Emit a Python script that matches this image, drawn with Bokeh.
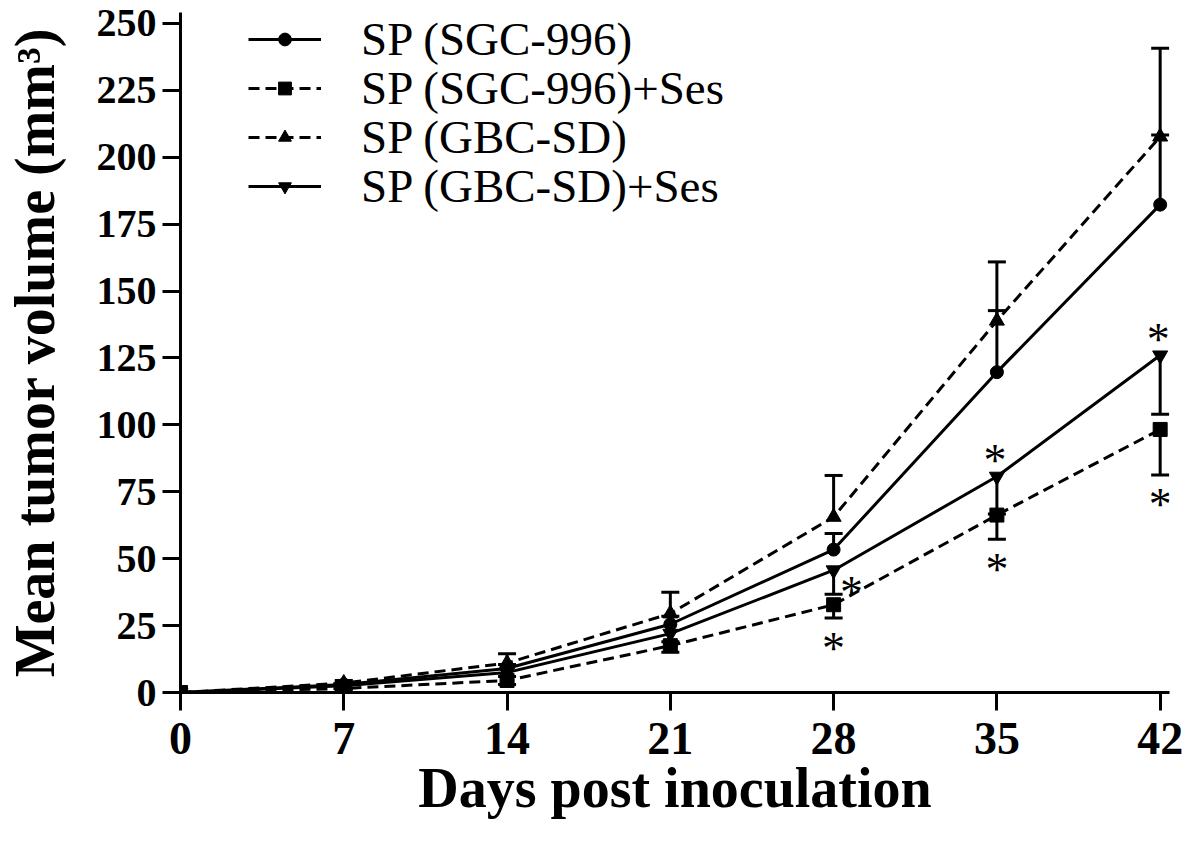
from bokeh.plotting import figure
from bokeh.models import Range1d, Legend, LegendItem, ColumnDataSource, Whisker, TeeHead, FixedTicker
from bokeh.core.properties import value
from bokeh.embed import file_html
from bokeh.resources import INLINE

# ---- data ----
days = [0, 7, 14, 21, 28, 35, 42]

sgc996 = [0, 3.0, 9.0, 25.5, 53.4, 119.7, 182.3]
sgc996_err_up = [0, 0.8, 1.5, 3.0, 6.0, 23.0, 26.0]

sgc996_ses = [0, 1.5, 4.5, 17.5, 32.8, 66.3, 98.3]
sgc996_ses_err_dn = [0, 0.8, 1.5, 2.5, 5.0, 9.0, 17.0]

gbcsd = [0, 3.5, 11.0, 29.5, 65.6, 138.9, 207.7]
gbcsd_err_up = [0, 1.0, 3.5, 8.0, 15.5, 22.0, 33.0]

gbcsd_ses = [0, 2.5, 7.5, 22.0, 45.7, 80.7, 126.0]
gbcsd_ses_err_dn = [0, 0.8, 1.5, 3.0, 9.0, 14.0, 22.0]

labels = ["SP (SGC-996)", "SP (SGC-996)+Ses", "SP (GBC-SD)", "SP (GBC-SD)+Ses"]
y_ticks = [0, 25, 50, 75, 100, 125, 150, 175, 200, 225, 250]

# significance marks: (day, series, placement)
star_days = [28, 28, 35, 35, 42, 42]
star_series = ["gbcsd_ses", "sgc996_ses", "gbcsd_ses", "sgc996_ses", "gbcsd_ses", "sgc996_ses"]
star_place = ["right", "below", "above", "below", "above", "below"]

FONT = "Liberation Serif"
W, H = 1184, 839
TOP, LEFT, BOTTOM = 12, 177, 147
Y_END = 254.1

p = figure(width=W, height=H, x_range=Range1d(0, 42.4), y_range=Range1d(0, Y_END),
           output_backend="svg", toolbar_location=None,
           min_border_left=LEFT, min_border_right=15, min_border_top=TOP, min_border_bottom=BOTTOM)
p.xgrid.visible = False
p.ygrid.visible = False
p.outline_line_color = None
p.background_fill_color = "white"

for ax in (p.xaxis[0], p.yaxis[0]):
    ax.axis_line_width = 3
    ax.axis_line_color = "black"
    ax.major_tick_line_width = 3
    ax.major_tick_line_color = "black"
    ax.major_tick_out = 18
    ax.major_tick_in = 0
    ax.minor_tick_out = 0
    ax.minor_tick_in = 0
    ax.major_label_text_font = FONT
    ax.major_label_text_font_style = "bold"
    ax.major_label_text_color = "black"
    ax.axis_label_text_font = FONT
    ax.axis_label_text_font_style = "bold"
    ax.axis_label_text_color = "black"

p.xaxis.ticker = FixedTicker(ticks=days)
p.yaxis.ticker = FixedTicker(ticks=y_ticks)
p.xaxis.major_label_text_font_size = "46px"
p.yaxis.major_label_text_font_size = "40px"
p.xaxis.major_label_standoff = 12
p.yaxis.major_label_standoff = 6
p.xaxis.axis_label = "Days post inoculation"
p.yaxis.axis_label = "Mean tumor volume (mm³)"
p.xaxis.axis_label_text_font_size = "56px"
p.yaxis.axis_label_text_font_size = "56px"
p.xaxis.axis_label_standoff = 0
p.yaxis.axis_label_standoff = 28

DASH = "11 6"
series = [
    ("sgc996", sgc996, "circle", "solid", 13),
    ("sgc996_ses", sgc996_ses, "square", DASH, 14),
    ("gbcsd", gbcsd, "triangle", DASH, 15),
    ("gbcsd_ses", gbcsd_ses, "inverted_triangle", "solid", 15),
]
vals = {k: v for k, v, *_ in series}
err_dn = {"sgc996_ses": sgc996_ses_err_dn, "gbcsd_ses": gbcsd_ses_err_dn}

items = []
for (key, ys, marker, dash, size), label in zip(series, labels):
    src = ColumnDataSource(dict(x=days, y=ys))
    r1 = p.line("x", "y", source=src, line_width=3, line_color="black", line_dash=dash)
    r2 = p.scatter("x", "y", source=src, marker=marker, size=size, fill_color="black",
                   line_color="black", line_width=1)
    items.append(LegendItem(label=label, renderers=[r1, r2]))

# error bars (upper for the upper groups, lower for the treated groups)
def add_whisker(ys, errs, up):
    if up:
        lo = list(ys)
        hi = [a + b for a, b in zip(ys, errs)]
        w = Whisker(base="x", upper="hi", lower="lo",
                    source=ColumnDataSource(dict(x=days, lo=lo, hi=hi)),
                    upper_head=TeeHead(size=18, line_width=3, line_color="black"),
                    lower_head=None, line_width=3, line_color="black")
    else:
        hi = list(ys)
        lo = [a - b for a, b in zip(ys, errs)]
        w = Whisker(base="x", upper="hi", lower="lo",
                    source=ColumnDataSource(dict(x=days, lo=lo, hi=hi)),
                    lower_head=TeeHead(size=18, line_width=3, line_color="black"),
                    upper_head=None, line_width=3, line_color="black")
    p.add_layout(w)

add_whisker(sgc996, sgc996_err_up, True)
add_whisker(gbcsd, gbcsd_err_up, True)
add_whisker(sgc996_ses, sgc996_ses_err_dn, False)
add_whisker(gbcsd_ses, gbcsd_ses_err_dn, False)

# asterisks
sx, sy, xo, yo = [], [], [], []
for d, s, pl in zip(star_days, star_series, star_place):
    i = days.index(d)
    v = vals[s][i]
    if pl == "below":
        sx.append(d); sy.append(v - err_dn[s][i]); xo.append(0); yo.append(30)
    elif pl == "above":
        sx.append(d); sy.append(v); xo.append(-2); yo.append(-16)
    else:
        sx.append(d); sy.append(v); xo.append(18); yo.append(22)
p.text(x=sx, y=sy, text=["*"] * len(sx), x_offset=xo, y_offset=yo,
       text_font=value(FONT), text_font_size="46px", text_color="black",
       text_align="center", text_baseline="middle")

# one legend box per entry, so the rows sit 49 px apart
row_centers = [39, 88, 137, 186]   # px from the top of the canvas
frame_bottom = H - BOTTOM
row_h = 54
for item, cy in zip(items, row_centers):
    lg = Legend(items=[item], location=(68, frame_bottom - (cy + row_h / 2)),
                orientation="vertical",
                glyph_width=73, glyph_height=32, label_height=row_h, label_standoff=40,
                spacing=0, padding=0, margin=0, border_line_color=None,
                background_fill_alpha=0,
                label_text_font=FONT, label_text_font_size="47px", label_text_color="black")
    p.add_layout(lg)

open("out.html", "w").write(file_html(p, INLINE))
